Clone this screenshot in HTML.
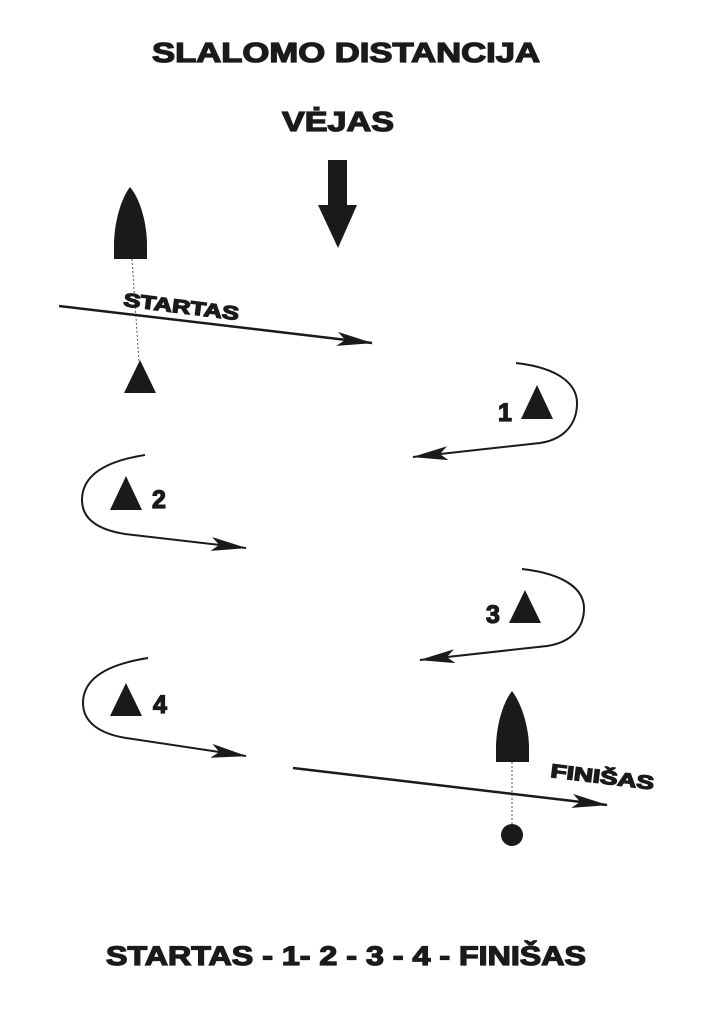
<!DOCTYPE html>
<html><head><meta charset="utf-8"><style>
html,body{margin:0;padding:0;background:#fff;}
svg{display:block;}
text{font-family:"Liberation Sans",sans-serif;font-weight:bold;fill:#1a1a1a;stroke:#1a1a1a;stroke-width:1.3;}
</style></head><body>
<svg width="707" height="1024" viewBox="0 0 707 1024" xmlns="http://www.w3.org/2000/svg">
<defs>
<marker id="ah2" viewBox="0 0 36 14" refX="35" refY="7" markerWidth="36" markerHeight="14" markerUnits="userSpaceOnUse" orient="auto">
<path d="M0,0 L36,7 L0,14 L8,7 Z" fill="#1a1a1a"/>
</marker>
</defs>
<text x="346" y="62" font-size="28" text-anchor="middle" textLength="388" lengthAdjust="spacingAndGlyphs">SLALOMO DISTANCIJA</text>
<text x="338" y="131" font-size="28" text-anchor="middle" textLength="112" lengthAdjust="spacingAndGlyphs">VĖJAS</text>
<path d="M328,160 H347 V205 H357 L338,248 L318,205 H328 Z" fill="#1a1a1a"/>
<path d="M130,187 C120,200 114,225 114,245 V259 H147 V245 C147,225 141,200 130,187 Z" fill="#1a1a1a"/>
<line x1="132" y1="259" x2="139" y2="362" stroke="#555" stroke-width="1" stroke-dasharray="2,2"/>
<path d="M140,360 L156,393 L124,393 Z" fill="#1a1a1a"/>
<line x1="59" y1="306" x2="372" y2="343" stroke="#1a1a1a" stroke-width="2.5" marker-end="url(#ah2)"/>
<text transform="translate(123,306) rotate(7)" font-size="19" textLength="116" lengthAdjust="spacingAndGlyphs">STARTAS</text>
<path d="M516,363 C560,368 578,385 577,405 C576,428 560,440 540,443 L413,457" fill="none" stroke="#1a1a1a" stroke-width="2" marker-end="url(#ah2)"/>
<text x="498" y="421" font-size="25">1</text>
<path d="M537,385 L553,419 L521,419 Z" fill="#1a1a1a"/>
<path d="M145,455 C100,462 82,478 82,500 C82,520 100,530 125,534 L246,548" fill="none" stroke="#1a1a1a" stroke-width="2" marker-end="url(#ah2)"/>
<path d="M126,476 L142,510 L110,510 Z" fill="#1a1a1a"/>
<text x="152" y="508" font-size="25">2</text>
<path d="M522,569 C566,574 585,590 584,610 C583,632 567,643 547,646 L420,660" fill="none" stroke="#1a1a1a" stroke-width="2" marker-end="url(#ah2)"/>
<text x="486" y="623" font-size="25">3</text>
<path d="M525,590 L541,623 L509,623 Z" fill="#1a1a1a"/>
<path d="M148,658 C103,665 83,681 83,703 C83,723 101,734 126,738 L246,756" fill="none" stroke="#1a1a1a" stroke-width="2" marker-end="url(#ah2)"/>
<path d="M126,683 L142,716 L110,716 Z" fill="#1a1a1a"/>
<text x="153" y="713" font-size="25">4</text>
<path d="M512,691 C502,704 496,728 496,748 V762 H529 V748 C529,728 522,704 512,691 Z" fill="#1a1a1a"/>
<line x1="512" y1="762" x2="512" y2="825" stroke="#555" stroke-width="1" stroke-dasharray="2,2"/>
<circle cx="512" cy="835" r="11" fill="#1a1a1a"/>
<line x1="293" y1="768" x2="607" y2="805" stroke="#1a1a1a" stroke-width="2.5" marker-end="url(#ah2)"/>
<text transform="translate(550,777) rotate(7)" font-size="19" textLength="104" lengthAdjust="spacingAndGlyphs">FINIŠAS</text>
<text x="346" y="965" font-size="27" text-anchor="middle" textLength="480" lengthAdjust="spacingAndGlyphs">STARTAS - 1- 2 - 3 - 4 - FINIŠAS</text>
</svg>
</body></html>
